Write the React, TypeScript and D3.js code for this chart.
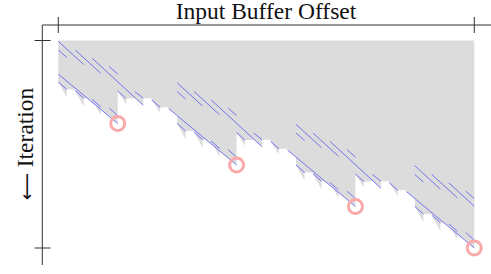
import React from "react";
import * as d3 from "d3";

// ---- data (x = buffer offset in columns, y = iteration in rows) ----
const blockEnds = [7, 14, 21, 28];          // offset of each block end (circle x)
const blockEndIters = [10, 15, 20, 25];      // iteration of each block end (circle y)
// dash templates relative to the block end: [du0, dv0, du1, dv1]
const upperDashes = [
  [-3.5, -9.9, -2, -7.1],
  [-3.5, -8.85, -3, -7.95],
  [-2.5, -8.85, -1, -6.05],
  [-1.5, -7.85, 1.5, -2.2],
  [-0.5, -6.85, 0, -5.95],
];
const firstHalfDashes = [
  [-7, -8.9, -6.5, -8.0],
  [-6, -8.85, -5.5, -8.05],
  [-5, -7.85, -4.5, -6.95],
];
const mainDashes = [[-4, -6.8, 0, 0]];
const lowerDashes = [
  [-3.5, -5.0, -3, -4.1],
  [-2.5, -3.95, -2, -3.05],
  [-1.5, -2.9, -1, -2.0],
  [-0.5, -1.85, 0, -0.95],
];
// extra iterations a short read keeps its bytes alive (reached at the read's end)
const firstHalfLinger = 0.7;
const lowerLinger = 1.0;
const xDomain = [3.5, 28];
const yDomain = [0, 25];
const xLabel = "Input Buffer Offset";
const yLabelArrow = "\u27F5";
const yLabel = "Iteration";

export default function App() {
  const W = 491, H = 274;
  const x = d3.scaleLinear().domain(xDomain).range([58.3, 474.3]);
  const y = d3.scaleLinear().domain(yDomain).range([40.5, 248]);

  type Seg = { s: number[]; short: boolean };
  const groups: [number[][], number, boolean][] = [
    [upperDashes, 0, false], [firstHalfDashes, firstHalfLinger, true],
    [mainDashes, 0, false], [lowerDashes, lowerLinger, true],
  ];
  const segs: Seg[] = [];
  blockEnds.forEach((bx, i) => {
    const by = blockEndIters[i];
    groups.forEach(([list, linger, short]) => list.forEach(([a, b, c, d]) => {
      let x0 = bx + a, y0 = by + b, x1 = bx + c, y1 = by + d;
      if (x1 <= xDomain[0] || x0 >= xDomain[1]) return;
      let l0 = 0, l1 = linger;
      if (x0 < xDomain[0]) { const t = (xDomain[0] - x0) / (x1 - x0); y0 += (y1 - y0) * t; l0 = linger * t; x0 = xDomain[0]; }
      if (x1 > xDomain[1]) { const t = (xDomain[1] - x0) / (x1 - x0); y1 = y0 + (y1 - y0) * t; l1 = l0 + (l1 - l0) * t; x1 = xDomain[1]; }
      segs.push({ s: [x0, y0, x1, y1, l0, l1], short });
    }));
  });
  const shorts = segs.filter((d) => d.short).map((d) => d.s).sort((a, b) => a[0] - b[0]);

  // last iteration at which each offset is still alive
  const N = 4000;
  const pts: [number, number][] = [];
  for (let k = 0; k <= N; k++) {
    const xv = xDomain[0] + (xDomain[1] - xDomain[0]) * (k / N);
    let m = -Infinity;
    segs.forEach(({ s: [x0, y0, x1, y1, l0, l1] }) => {
      if (xv >= x0 - 1e-9 && xv <= x1 + 1e-9) {
        const t = (xv - x0) / (x1 - x0 || 1);
        const yy = y0 + (y1 - y0) * t + l0 + (l1 - l0) * t;
        if (yy > m) m = yy;
      }
    });
    // bytes of the previous short read stay until the next short read starts
    for (let j = 0; j < shorts.length; j++) {
      const nextStart = j + 1 < shorts.length ? shorts[j + 1][0] : Infinity;
      if (xv > shorts[j][2] + 1e-9 && xv < nextStart - 1e-9) { m = Math.max(m, shorts[j][3]); }
    }
    if (m === -Infinity) m = pts.length ? pts[pts.length - 1][1] : 0;
    pts.push([xv, m]);
  }
  const area = d3.area<[number, number]>()
    .x((d) => x(d[0]))
    .y0(() => y(0))
    .y1((d) => y(d[1]));

  const serif = "'Liberation Serif', 'Times New Roman', serif";
  return (
    <svg width={W} height={H} style={{ position: "absolute", left: 0, top: 0 }}>
      <path d={area(pts) || ""} fill="#dcdcdc" />
      {segs.map(({ s }, i) => (
        <line key={i} x1={x(s[0])} y1={y(s[1])} x2={x(s[2])} y2={y(s[3])}
          stroke="#6262f0" strokeWidth={0.85} />
      ))}
      {blockEnds.map((bx, i) => (
        <circle key={i} cx={x(bx)} cy={y(blockEndIters[i])} r={7}
          fill="none" stroke="#f9a9a9" strokeWidth={3} />
      ))}
      <line x1={42.3} y1={25} x2={491} y2={25} stroke="#333" strokeWidth={1} />
      <line x1={42.3} y1={25} x2={42.3} y2={265} stroke="#333" strokeWidth={1} />
      {xDomain.map((v, i) => (
        <line key={"xt" + i} x1={x(v)} x2={x(v)} y1={17} y2={33} stroke="#333" strokeWidth={1} />
      ))}
      {yDomain.map((v, i) => (
        <line key={"yt" + i} x1={34.5} x2={50.5} y1={y(v)} y2={y(v)} stroke="#333" strokeWidth={1} />
      ))}
      <text x={266} y={19} textAnchor="middle" fontFamily={serif} fontSize={23.5} fill="#111">{xLabel}</text>
      <text transform="translate(33,144) rotate(-90)" textAnchor="middle" fontFamily={serif} fontSize={23.5} fill="#111">
        <tspan fontFamily="'DejaVu Sans', sans-serif" fontSize={19}>{yLabelArrow}</tspan>
        <tspan>{" " + yLabel}</tspan>
      </text>
    </svg>
  );
}
